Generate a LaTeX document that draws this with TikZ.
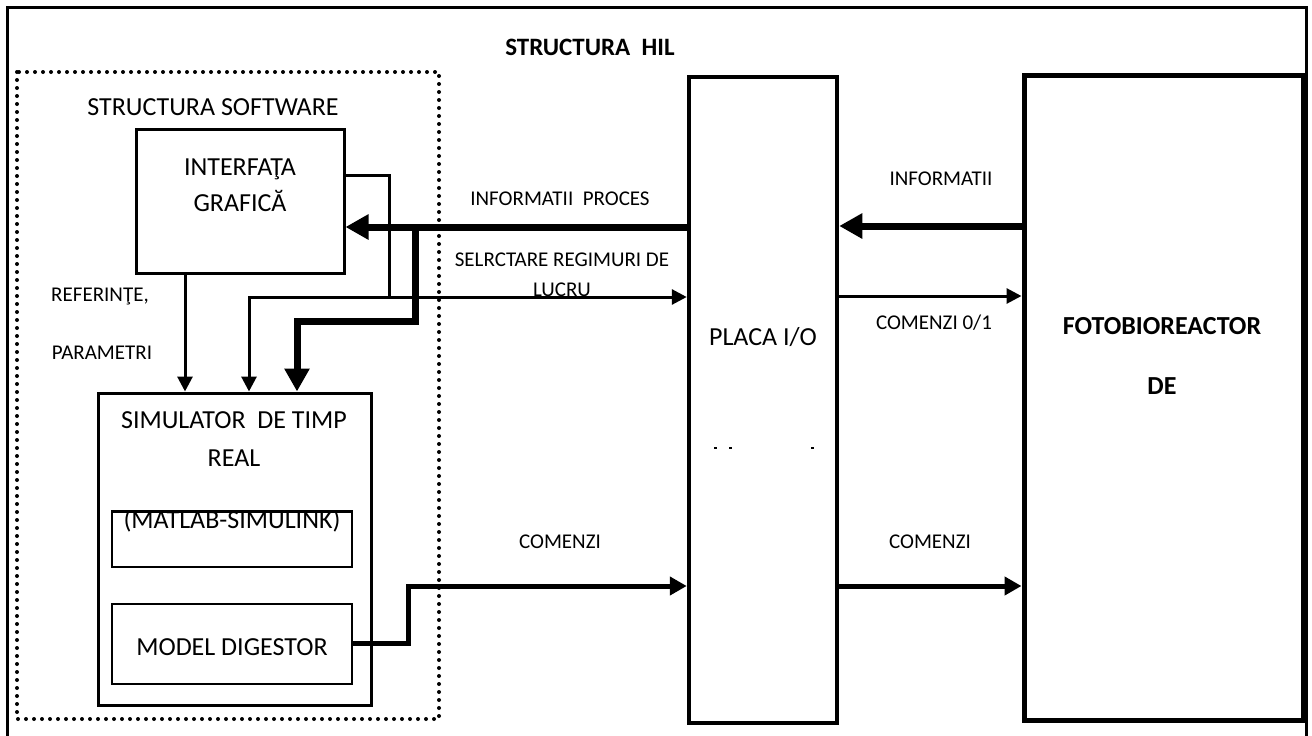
\documentclass[tikz,border=0pt]{standalone}
\usepackage{fontspec}
\setmainfont{Carlito}
\usetikzlibrary{arrows.meta}
\begin{document}
\begin{tikzpicture}[x=1pt,y=-1pt,
  lbl/.style={inner sep=0pt,font=\fontsize{21}{25}\selectfont,align=center},
  big/.style={inner sep=0pt,font=\fontsize{26}{36}\selectfont,align=center},
  thinl/.style={line width=3pt},
  thickl/.style={line width=7pt},
  medl/.style={line width=5pt},
  tipS/.style={-{Triangle[length=15pt,width=15pt]}},
  tipM/.style={-{Triangle[length=17pt,width=18pt]}},
  tipL/.style={-{Triangle[length=23pt,width=24pt]}}
]
\useasboundingbox (0,0) rectangle (1312,736);
\fill[white] (0,0) rectangle (1312,736);
\begin{scope}
\clip (0,0) rectangle (1312,736);
\draw[line width=3pt] (7,7) rectangle (1306,760);
\end{scope}
\node[inner sep=0pt,font=\fontsize{25}{30}\selectfont\bfseries] (title) at (590,47) {STRUCTURA\ \ HIL};
% dotted software frame
\draw[line width=4pt,line cap=round,dash pattern=on 0pt off 8pt] (17,72) rectangle (439,719);
\node[big] (swl) at (213,107) {STRUCTURA SOFTWARE};
% boxes
\node[draw,line width=3pt,minimum width=208pt,minimum height=144pt] (intf) at (240,201) {};
\node[big] (intft) at (240,185) {INTERFAŢA\\GRAFICĂ};
\node[draw,line width=3pt,minimum width=273pt,minimum height=312pt] (sim) at (234.5,549) {};
\node[inner sep=0pt,font=\fontsize{26}{38}\selectfont,align=center] (simt) at (234,439) {SIMULATOR\ \ DE TIMP\\REAL};
\node[draw,line width=2pt,minimum width=240pt,minimum height=55pt] (mat) at (232,539.5) {};
\begin{scope}
\clip (mat.north west) rectangle (mat.south east);
\node[big] (matt) at (232,521) {(MATLAB-SIMULINK)};
\end{scope}
\draw[line width=2pt] (mat.north west) -- (mat.north east);
\node[draw,line width=2pt,minimum width=240pt,minimum height=80pt] (mod) at (232,644) {};
\node[big] (modt) at (232,647) {MODEL DIGESTOR};
\node[draw,line width=4.5pt,minimum width=148pt,minimum height=646pt] (placa) at (763,400) {};
\node[big] (placat) at (763,337) {PLACA I/O};
\node[draw,line width=5pt,minimum width=279pt,minimum height=645pt] (foto) at (1163.5,397.5) {};
\node[inner sep=0pt,font=\fontsize{26}{60}\selectfont\bfseries,align=center] (fotot) at (1162,356) {FOTOBIOREACTOR\\DE};
% small marks inside PLACA
\draw[line width=1.5pt] (714,448) -- (716.5,448) (729,448) -- (731.5,448) (811,448) -- (813.5,448);
% labels
\node[lbl] (l1) at (100,297) {REFERINŢE,};
\node[lbl] (l2) at (102,353) {PARAMETRI};
\node[lbl] (l3) at (560,199) {INFORMATII\ \ PROCES};
\node[lbl,font=\fontsize{21}{30}\selectfont] (l4) at (562,275) {SELRCTARE REGIMURI DE\\LUCRU};
\node[lbl] (l5) at (560,542) {COMENZI};
\node[lbl] (l6) at (930,542) {COMENZI};
\node[lbl] (l7) at (941,179) {INFORMATII};
\node[lbl] (l8) at (934,323) {COMENZI 0/1};
% coordinates
\coordinate (s1) at (389,175);
\coordinate (s2) at (389,297);
\coordinate (s3) at (249,297);
\coordinate (j1) at (415,227);
\coordinate (j2) at (415,321);
\coordinate (j3) at (297,321);
\coordinate (m1) at (408,643);
\coordinate (m2) at (408,586);
% connectors
\draw[thickl,tipL] (placa.west |- j1) -- (intf.east |- j1);
\draw[thickl,tipL,line join=miter] (j1) -- (j2) -- (j3) -- (j3 |- sim.north);
\draw[thinl] (intf.east |- s1) -- (s1) -- (s2);
\draw[thinl,tipS] (intf.east |- s2) -- (placa.west |- s2);
\draw[thinl,tipS] (s2) -- (s3) -- (s3 |- sim.north);
\draw[thinl,tipS] (185,0 |- intf.south) -- (185,0 |- sim.north);
\draw[medl,tipM,line join=miter] (mod.east |- m1) -- (m1) -- (m2) -- (placa.west |- m2);
\draw[thickl,tipL] (foto.west |- 0,226) -- (placa.east |- 0,226);
\draw[thinl,tipS] (placa.east |- 0,296) -- (foto.west |- 0,296);
\draw[medl,tipM] (placa.east |- m2) -- (foto.west |- m2);
\end{tikzpicture}
\end{document}
